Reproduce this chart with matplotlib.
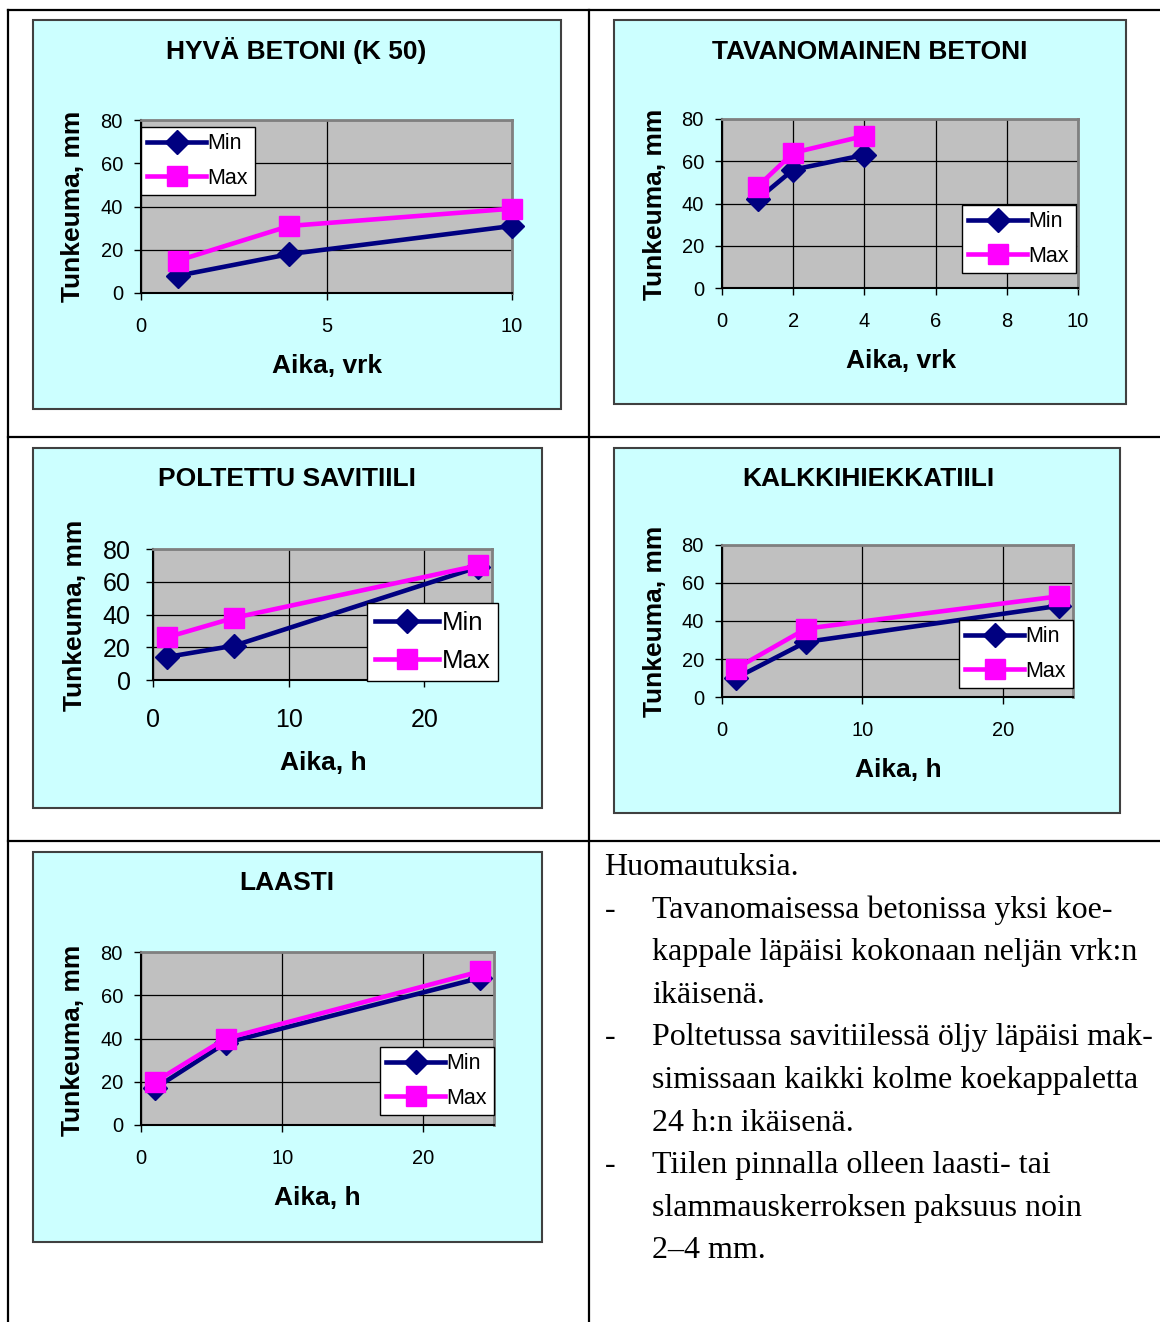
import matplotlib.pyplot as plt
from matplotlib.patches import Rectangle
from matplotlib.lines import Line2D

W, H = 1160, 1322

#---DATA--------------------------------------------------------------------
ylabel = 'Tunkeuma, mm'
titles = ['HYVÄ BETONI (K 50)', 'TAVANOMAINEN BETONI', 'POLTETTU SAVITIILI',
          'KALKKIHIEKKATIILI', 'LAASTI']
xlabels = ['Aika, vrk', 'Aika, vrk', 'Aika, h', 'Aika, h', 'Aika, h']
series_names = ['Min', 'Max']

hyva_x = [1, 4, 10]
hyva_min = [8, 18, 31]
hyva_max = [15, 31, 39]

tava_x = [1, 2, 4]
tava_min = [42, 56, 63]
tava_max = [48, 64, 72]

polt_x = [1, 6, 24]
polt_min = [14, 21, 69]
polt_max = [26, 38, 70]

kalk_x = [1, 6, 24]
kalk_min = [10, 29, 48]
kalk_max = [15, 36, 53]

laas_x = [1, 6, 24]
laas_min = [17, 38, 68]
laas_max = [20, 40, 71]

yticks = [0, 20, 40, 60, 80]
xticks_list = [[0, 5, 10], [0, 2, 4, 6, 8, 10], [0, 10, 20], [0, 10, 20], [0, 10, 20]]
xmax_list = [10, 10, 25, 25, 25]

notes_title = 'Huomautuksia.'
notes = [
    ['Tavanomaisessa betonissa yksi koe-',
     'kappale läpäisi kokonaan neljän vrk:n',
     'ikäisenä.'],
    ['Poltetussa savitiilessä öljy läpäisi mak-',
     'simissaan kaikki kolme koekappaletta',
     '24 h:n ikäisenä.'],
    ['Tiilen pinnalla olleen laasti- tai',
     'slammauskerroksen paksuus noin',
     '2–4 mm.'],
]

#---HELPERS-----------------------------------------------------------------
def fx(x):
    return x / W

def fy(y):
    return 1 - y / H

fig = plt.figure(figsize=(W / 100, H / 100), dpi=100)
plt.rcParams['font.family'] = ['Liberation Sans', 'DejaVu Sans']

def draw_chart(box, plot, xs, ymin, ymax, title, xlabel, xticks, xmax,
               tick_fs, leg_fs, leg_xy, title_xy, ylab_xy, xlab_xy, xpad, ypad,
               hlen=2.7, lspace=0.62):
    # cyan chart area
    x0, y0, x1, y1 = box
    fig.add_artist(Rectangle((fx(x0), fy(y1)), fx(x1) - fx(x0), fy(y0) - fy(y1),
                             transform=fig.transFigure, facecolor='#CCFFFF',
                             edgecolor='#404040', lw=1.5, zorder=-1))
    l, t, r, b = plot
    ax = fig.add_axes([fx(l), fy(b), fx(r) - fx(l), fy(t) - fy(b)])
    ax.set_facecolor('#C0C0C0')
    ax.plot(xs, ymin, color='#000080', lw=3.3, marker='D', ms=12,
            clip_on=False, zorder=3, label=series_names[0])
    ax.plot(xs, ymax, color='#FF00FF', lw=3.3, marker='s', ms=14,
            clip_on=False, zorder=4, label=series_names[1])
    ax.set_xlim(0, xmax)
    ax.set_ylim(0, 80)
    ax.set_xticks(xticks)
    ax.set_yticks(yticks)
    ax.grid(True, color='black', lw=0.9)
    ax.set_axisbelow(True)
    for s in ['top', 'right']:
        ax.spines[s].set_color('#808080')
        ax.spines[s].set_linewidth(2)
    for s in ['left', 'bottom']:
        ax.spines[s].set_color('black')
        ax.spines[s].set_linewidth(1.5)
    ax.tick_params(direction='out', length=5, width=1, labelsize=tick_fs)
    ax.tick_params(axis='x', pad=xpad)
    ax.tick_params(axis='y', pad=ypad)
    leg = ax.legend(loc='upper left', bbox_to_anchor=(fx(leg_xy[0]), fy(leg_xy[1])),
                    bbox_transform=fig.transFigure, fontsize=leg_fs, fancybox=False,
                    framealpha=1, edgecolor='black', borderpad=0.3, labelspacing=lspace,
                    handlelength=hlen, handletextpad=0.1, borderaxespad=0)
    leg.get_frame().set_linewidth(1)
    fig.text(fx(title_xy[0]), fy(title_xy[1]), title, fontsize=19, fontweight='bold',
             ha='center', va='center')
    fig.text(fx(ylab_xy[0]), fy(ylab_xy[1]), ylabel, fontsize=19, fontweight='bold',
             ha='center', va='center', rotation=90)
    fig.text(fx(xlab_xy[0]), fy(xlab_xy[1]), xlabel, fontsize=19, fontweight='bold',
             ha='center', va='center')
    return ax

#---CHARTS------------------------------------------------------------------
draw_chart((33, 20, 561, 409), (141, 120, 512, 293), hyva_x, hyva_min, hyva_max,
           titles[0], xlabels[0], xticks_list[0], xmax_list[0], 14.5, 15.5,
           (141, 127), (296, 50), (73, 206), (327, 366), 12.5, 8)
draw_chart((614, 20, 1126, 404), (722, 119, 1078, 288), tava_x, tava_min, tava_max,
           titles[1], xlabels[1], xticks_list[1], xmax_list[1], 14.5, 15.5,
           (962, 205), (870, 52), (655, 204), (901, 361), 12.5, 8)
draw_chart((33, 448, 542, 808), (153, 549, 492, 680), polt_x, polt_min, polt_max,
           titles[2], xlabels[2], xticks_list[2], xmax_list[2], 18, 18.5,
           (367, 603), (287, 479), (75, 615), (323, 763), 15.5, 11,
           hlen=2.5, lspace=0.55)
draw_chart((614, 448, 1120, 813), (722, 545, 1073, 697), kalk_x, kalk_min, kalk_max,
           titles[3], xlabels[3], xticks_list[3], xmax_list[3], 14.5, 15.5,
           (959, 620), (868, 479), (655, 621), (898, 770), 12.5, 8)
draw_chart((33, 852, 542, 1242), (141, 952, 494, 1125), laas_x, laas_min, laas_max,
           titles[4], xlabels[4], xticks_list[4], xmax_list[4], 14.5, 15.5,
           (380, 1047), (287, 883), (73, 1040), (317, 1198), 12.5, 8)

#---TABLE LINES-------------------------------------------------------------
def hline(y, xa, xb):
    fig.add_artist(Line2D([fx(xa), fx(xb)], [fy(y), fy(y)], transform=fig.transFigure,
                          color='black', lw=1.6))

def vline(x, ya, yb):
    fig.add_artist(Line2D([fx(x), fx(x)], [fy(ya), fy(yb)], transform=fig.transFigure,
                          color='black', lw=1.6))

hline(10, 8, 1160)
hline(437, 8, 1160)
hline(841, 8, 1160)
vline(8, 10, 1322)
vline(589, 10, 1322)

#---NOTES-------------------------------------------------------------------
serif = ['Liberation Serif', 'DejaVu Serif']
base = 875
step = 42.6
fig.text(fx(604), fy(base), notes_title, fontsize=23, family=serif, va='baseline')
row = 1
for item in notes:
    fig.text(fx(605), fy(base + row * step), '-', fontsize=23, family=serif, va='baseline')
    for line in item:
        fig.text(fx(652), fy(base + row * step), line, fontsize=23, family=serif,
                 va='baseline')
        row += 1

fig.savefig('out.png', dpi=100)
